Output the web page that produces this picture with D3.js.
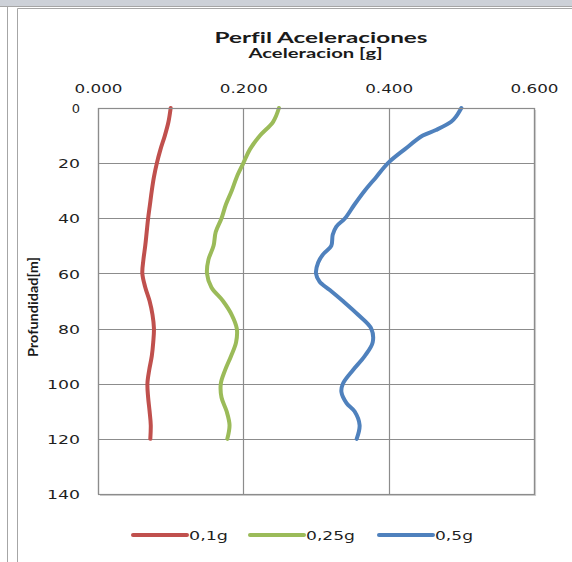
<!DOCTYPE html>
<html>
<head>
<meta charset="utf-8">
<script src="https://d3js.org/d3.v7.min.js"></script>
<style>
  html, body { margin: 0; padding: 0; background: #fff; }
  svg { display: block; }
  text { font-variant-ligatures: none; }
</style>
</head>
<body>
<svg id="chart" width="572" height="562"></svg>
<script>
// ---- Data ----
const title = "Perfil Aceleraciones";
const xAxisTitle = "Aceleracion [g]";
const yAxisTitle = "Profundidad[m]";
const xTicks = [0, 0.2, 0.4, 0.6];
const yTicks = [0, 20, 40, 60, 80, 100, 120, 140];
const seriesNames = ["0,1g", "0,25g", "0,5g"];
const seriesColors = ["#C0504D", "#9BBB59", "#4F81BD"];

const depth5 = [0, 5, 10, 15, 20, 25, 30, 35, 40, 45, 50, 55, 60, 65, 70, 75, 80, 85, 90, 95, 100, 105, 110, 115, 120];
const acc01 = [0.100, 0.097, 0.092, 0.086, 0.081, 0.077, 0.074, 0.0715, 0.069, 0.067, 0.065, 0.0625, 0.061, 0.065, 0.071, 0.075, 0.077, 0.076, 0.074, 0.0705, 0.068, 0.069, 0.071, 0.0726, 0.072];
const acc025 = [0.249, 0.241, 0.223, 0.209, 0.200, 0.191, 0.184, 0.176, 0.170, 0.162, 0.159, 0.152, 0.150, 0.156, 0.172, 0.184, 0.191, 0.190, 0.183, 0.175, 0.169, 0.170, 0.177, 0.181, 0.178];

const depthBlue = [0, 3, 5, 8, 10, 15, 20, 25, 30, 35, 40, 43, 46, 50, 53, 56, 60, 63, 66, 70, 75, 80, 85, 90, 95, 100, 103, 107, 110, 115, 120];
const acc05 = [0.500, 0.493, 0.486, 0.465, 0.447, 0.422, 0.399, 0.383, 0.367, 0.353, 0.340, 0.328, 0.323, 0.321, 0.310, 0.303, 0.300, 0.305, 0.319, 0.337, 0.358, 0.376, 0.378, 0.367, 0.351, 0.337, 0.335, 0.342, 0.353, 0.360, 0.356];

const series = [
  { name: seriesNames[0], color: seriesColors[0], depth: depth5, acc: acc01 },
  { name: seriesNames[1], color: seriesColors[1], depth: depth5, acc: acc025 },
  { name: seriesNames[2], color: seriesColors[2], depth: depthBlue, acc: acc05 }
];

// ---- Layout ----
const svg = d3.select("#chart");
const W = 572, H = 562;
const plot = { left: 98, right: 534, top: 108, bottom: 494 };

// frame / background decorations
svg.append("rect").attr("x", 0).attr("y", 0).attr("width", W).attr("height", 6).attr("fill", "#cdd1d8");
svg.append("line").attr("x1", 0).attr("x2", W).attr("y1", 6.5).attr("y2", 6.5).attr("stroke", "#a6a6a6").attr("stroke-width", 1);
svg.append("line").attr("x1", 7.5).attr("x2", 7.5).attr("y1", 7).attr("y2", H).attr("stroke", "#a6a6a6");
svg.append("line").attr("x1", 17.5).attr("x2", 17.5).attr("y1", 8.5).attr("y2", H).attr("stroke", "#a6a6a6");
svg.append("line").attr("x1", 17.5).attr("x2", W).attr("y1", 8.5).attr("y2", 8.5).attr("stroke", "#a6a6a6");

const x = d3.scaleLinear().domain([0, 0.6]).range([plot.left, plot.right]);
const y = d3.scaleLinear().domain([0, 140]).range([plot.top, plot.bottom]);

// gridlines
const grid = svg.append("g");
grid.selectAll(".hg").data(yTicks).join("line")
  .attr("x1", plot.left).attr("x2", plot.right)
  .attr("y1", d => Math.round(y(d)) + 0.5).attr("y2", d => Math.round(y(d)) + 0.5)
  .attr("stroke", "#8c8c8c").attr("stroke-width", 1.2);
grid.selectAll(".vg").data(xTicks).join("line")
  .attr("x1", d => Math.round(x(d)) + 0.5).attr("x2", d => Math.round(x(d)) + 0.5)
  .attr("y1", plot.top).attr("y2", plot.bottom)
  .attr("stroke", "#8c8c8c").attr("stroke-width", 1.2);
// plot border shadow
svg.append("path")
  .attr("d", `M${plot.right + 1.5},${plot.top + 2} V${plot.bottom + 1.5} H${plot.left + 2}`)
  .attr("fill", "none").attr("stroke", "#d0d0d0").attr("stroke-width", 1.2);

// axes (text only, using d3 axes)
const fontTick = "'DejaVu Sans', Verdana, sans-serif";
const xAxis = svg.append("g").attr("transform", `translate(0,${plot.top})`)
  .call(d3.axisTop(x).tickValues(xTicks).tickFormat(d3.format(".3f")).tickSize(0).tickPadding(15));
xAxis.select(".domain").remove();
xAxis.selectAll("text").attr("font-family", fontTick).attr("font-size", 13).attr("fill", "#1f1f1f")
  .attr("textLength", 48).attr("lengthAdjust", "spacingAndGlyphs");

const yAxis = svg.append("g").attr("transform", `translate(${plot.left},0)`)
  .call(d3.axisLeft(y).tickValues(yTicks).tickFormat(d3.format("d")).tickSize(0).tickPadding(18));
yAxis.select(".domain").remove();
yAxis.selectAll("text").attr("font-family", fontTick).attr("font-size", 13).attr("fill", "#1f1f1f")
  .attr("dy", "0.36em")
  .each(function(d) {
    const s = String(d);
    if (s.length > 1) d3.select(this).attr("textLength", s.length === 2 ? 22 : 33).attr("lengthAdjust", "spacingAndGlyphs");
  });

// lines
const line = d3.line().x(d => x(d[1])).y(d => y(d[0])).curve(d3.curveCatmullRom.alpha(0.5));
svg.append("g").selectAll("path").data(series).join("path")
  .attr("d", s => line(s.depth.map((dep, i) => [dep, s.acc[i]])))
  .attr("fill", "none").attr("stroke", s => s.color).attr("stroke-width", 4)
  .attr("stroke-linecap", "round").attr("stroke-linejoin", "round");

// plot border
svg.append("rect").attr("x", plot.left + 0.5).attr("y", plot.top + 0.5)
  .attr("width", plot.right - plot.left).attr("height", plot.bottom - plot.top)
  .attr("fill", "none").attr("stroke", "#8c8c8c").attr("stroke-width", 1.2);

// titles
const fontTitle = "Lato, 'Open Sans', sans-serif";
svg.append("text").attr("x", 321).attr("y", 42.5).attr("text-anchor", "middle")
  .attr("font-family", fontTitle).attr("font-weight", "bold").attr("font-size", 16).attr("fill", "#1a1a1a")
  .attr("textLength", 213).attr("lengthAdjust", "spacingAndGlyphs").text(title);
svg.append("text").attr("x", 315.5).attr("y", 58).attr("text-anchor", "middle")
  .attr("font-family", fontTitle).attr("font-weight", "bold").attr("font-size", 12.5).attr("fill", "#1a1a1a")
  .attr("textLength", 134).attr("lengthAdjust", "spacingAndGlyphs").text(xAxisTitle);
svg.append("text").attr("transform", `translate(37.5,${(plot.top + plot.bottom) / 2 + 6}) rotate(-90)`)
  .attr("text-anchor", "middle")
  .attr("font-family", fontTitle).attr("font-weight", "bold").attr("font-size", 12.5).attr("fill", "#1a1a1a")
  .attr("textLength", 100).attr("lengthAdjust", "spacingAndGlyphs").text(yAxisTitle);

// legend
const legendX = [132, 249, 378];
const legendTextLen = [39, 49, 38];
const lg = svg.append("g").selectAll("g").data(series).join("g")
  .attr("transform", (d, i) => `translate(${legendX[i]},535)`);
lg.append("line").attr("x1", 1).attr("x2", 55).attr("y1", 0).attr("y2", 0)
  .attr("stroke", d => d.color).attr("stroke-width", 4).attr("stroke-linecap", "round");
lg.append("text").attr("x", 57).attr("y", 0).attr("dy", "0.36em")
  .attr("font-family", fontTick).attr("font-size", 13).attr("fill", "#1f1f1f")
  .attr("textLength", (d, i) => legendTextLen[i]).attr("lengthAdjust", "spacingAndGlyphs")
  .text(d => d.name);
</script>
</body>
</html>
